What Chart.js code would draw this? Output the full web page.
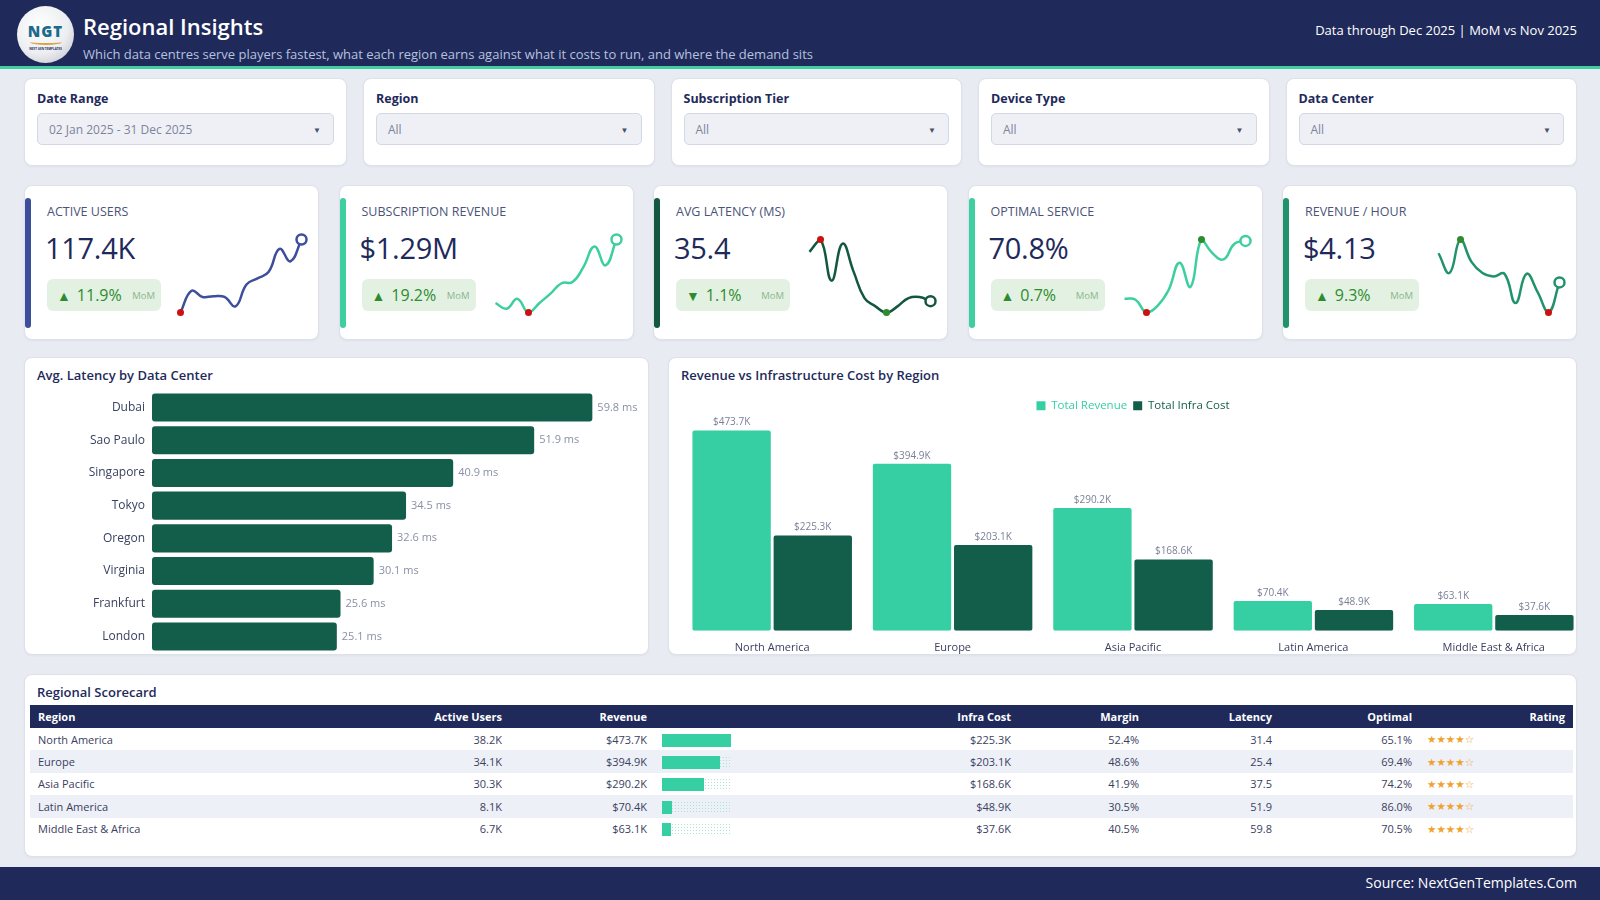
<!DOCTYPE html>
<html>
<head>
<meta charset="utf-8">
<title>Regional Insights</title>
<script src="https://cdn.jsdelivr.net/npm/chart.js@4.4.1/dist/chart.umd.min.js"></script>
<style>
  * { box-sizing: border-box; }
  body {
    margin: 0; width: 1600px; height: 900px; overflow: hidden;
    background: #e9ebf3; font-family: 'Open Sans', sans-serif; color: #1e2a5a;
    position: relative;
  }
  .header {
    position: absolute; left: 0; top: 0; width: 1600px; height: 69px;
    background: #1f2a5b; border-bottom: 3px solid #3ecfa0;
  }
  .logo {
    position: absolute; left: 17px; top: 6px; width: 57px; height: 57px; border-radius: 50%;
    background: radial-gradient(circle at 40% 35%, #ffffff 0%, #eceef1 55%, #b7bac3 100%);
    text-align: center;
  }
  .logo .ngt { position: absolute; left: 0; right: 0; top: 15px; font-size: 15px; font-weight: 800; color: #1c6b8a; letter-spacing: 1px; }
  .logo .swoosh { position: absolute; left: 13px; top: 33px; width: 32px; height: 6px; border-bottom: 2px solid #d9a441; border-radius: 0 0 50% 50%; }
  .logo .tiny { position: absolute; left: 0; right: 0; top: 41px; font-size: 3px; color: #1f2a5b; font-weight: 700; }
  .title { position: absolute; left: 83px; top: 11px; font-size: 22px; font-weight: 600; color: #fff; line-height: 30px; }
  .subtitle { position: absolute; left: 83px; top: 45px; font-size: 13px; color: #b6c1de; line-height: 18px; }
  .asof { position: absolute; right: 23px; top: 20px; font-size: 13px; color: #fff; line-height: 20px; }

  .card { background: #fff; border: 1px solid #dde1ea; border-radius: 8px; box-shadow: 0 1px 2px rgba(30,42,90,0.05); position: relative; }

  .filters { position: absolute; left: 24px; top: 78px; width: 1553px; height: 88px; display: flex; gap: 16px; }
  .filters .card { flex: 1 1 0; padding: 11px 12px 0 12px; }
  .filters .card:first-child { flex: 0 0 323px; }
  .flabel { font-size: 12.5px; font-weight: 700; line-height: 17px; color: #1e2a5a; }
  .fselect {
    margin-top: 6px; height: 32px; border: 1px solid #d3d8e4; background: #eef0f6; border-radius: 5px;
    display: flex; align-items: center; justify-content: space-between; padding: 0 12px 0 11px;
    font-size: 12px; color: #7d849b;
  }
  .fselect .arr { font-size: 8px; color: #4a5068; }

  .kpis { position: absolute; left: 24px; top: 185px; width: 1553px; height: 155px; display: flex; gap: 19.5px; }
  .kpis .card { flex: 1 1 0; }
  .accent { position: absolute; left: 0; top: 12px; width: 6px; height: 130px; border-radius: 3px; }
  .klabel { position: absolute; left: 22px; top: 17px; font-size: 12.5px; color: #4a5478; line-height: 18px; }
  .kvalue { position: absolute; left: 20px; top: 41px; font-size: 29px; font-weight: 500; color: #1e2a5a; line-height: 42px; letter-spacing: -0.3px; }
  .badge {
    position: absolute; left: 22px; top: 93px; width: 114px; height: 32px; border-radius: 6px;
    background: #e2f1e2; display: flex; align-items: center; padding: 0 6px 0 10px; color: #2e8b2e;
  }
  .badge .tri { font-size: 14px; margin-right: 6px; }
  .badge .pct { font-size: 16px; }
  .badge .mom { font-size: 9.5px; color: #8db58d; margin-left: auto; }
  .spark { position: absolute; left: 148px; top: 46px; width: 136px; height: 88px; }

  .panel-title { position: absolute; left: 12px; top: 7px; font-size: 13px; font-weight: 600; color: #1e2a5a; line-height: 20px; }
  #latCard { position: absolute; left: 24px; top: 357px; width: 625px; height: 298px; }
  #revCard { position: absolute; left: 668px; top: 357px; width: 909px; height: 298px; }
  .latWrap { position: absolute; left: 8px; top: 19px; width: 613px; height: 290px; }
  .revWrap { position: absolute; left: 13px; top: 36px; width: 902px; height: 270px; }

  #tblCard { position: absolute; left: 24px; top: 674px; width: 1553px; height: 183px; }
  table { position: absolute; left: 5px; top: 30px; width: 1543px; border-collapse: collapse; table-layout: fixed; font-size: 11px; }
  th { background: #1f2a5b; color: #fff; font-weight: 700; height: 23px; padding: 0 8px; text-align: right; }
  th:first-child { text-align: left; }
  td { height: 22.4px; padding: 0 8px; text-align: right; color: #3a4160; }
  td:first-child { text-align: left; }
  tbody tr:nth-child(even) td { background: #eef0f7; }
  td.barcell { text-align: left; padding-left: 7px; }
  .track {
    width: 69px; height: 13px; position: relative; top: 1px;
    background-image: radial-gradient(#a9e6d0 0.9px, transparent 1px); background-size: 3px 3px;
  }
  .fill { height: 13px; background: #36cfa3; }
  td.stars { text-align: left; padding-left: 7px; color: #f0a22e; font-size: 10.5px; font-family: 'DejaVu Sans', sans-serif; }
  th.ratingh { text-align: right; }

  .footer { position: absolute; left: 0; top: 867px; width: 1600px; height: 33px; background: #1f2a5b; }
  .footer span { position: absolute; right: 23px; top: 6px; font-size: 14px; color: #fff; line-height: 20px; }
</style>
</head>
<body>

<div class="header">
  <div class="logo"><div class="ngt">NGT</div><div class="swoosh"></div><div class="tiny">NEXT GEN TEMPLATES</div></div>
  <div class="title">Regional Insights</div>
  <div class="subtitle">Which data centres serve players fastest, what each region earns against what it costs to run, and where the demand sits</div>
  <div class="asof">Data through Dec 2025 | MoM vs Nov 2025</div>
</div>

<div class="filters" id="filters"></div>
<div class="kpis" id="kpis"></div>

<div class="card" id="latCard">
  <div class="panel-title">Avg. Latency by Data Center</div>
  <div class="latWrap"><canvas id="latencyChart"></canvas></div>
</div>
<div class="card" id="revCard">
  <div class="panel-title">Revenue vs Infrastructure Cost by Region</div>
  <div class="revWrap"><canvas id="revenueChart"></canvas></div>
</div>

<div class="card" id="tblCard">
  <div class="panel-title">Regional Scorecard</div>
  <table id="scorecard">
    <colgroup>
      <col style="width:320px"><col style="width:160px"><col style="width:145px"><col style="width:226px">
      <col style="width:138px"><col style="width:128px"><col style="width:133px"><col style="width:140px"><col style="width:153px">
    </colgroup>
    <thead><tr id="thead"></tr></thead>
    <tbody id="tbody"></tbody>
  </table>
</div>

<div class="footer"><span>Source: NextGenTemplates.Com</span></div>

<script>
// Bộ lọc
const filterLabels = ['Date Range', 'Region', 'Subscription Tier', 'Device Type', 'Data Center'];
const filterValues = ['02 Jan 2025 - 31 Dec 2025', 'All', 'All', 'All', 'All'];

// KPI
const months = ['Jan', 'Feb', 'Mar', 'Apr', 'May', 'Jun', 'Jul', 'Aug', 'Sep', 'Oct', 'Nov', 'Dec'];
const kpiLabels = ['ACTIVE USERS', 'SUBSCRIPTION REVENUE', 'AVG LATENCY (MS)', 'OPTIMAL SERVICE', 'REVENUE / HOUR'];
const kpiValues = ['117.4K', '$1.29M', '35.4', '70.8%', '$4.13'];
const kpiChanges = ['11.9%', '19.2%', '1.1%', '0.7%', '9.3%'];
const kpiDirections = ['up', 'up', 'down', 'up', 'up'];
const kpiLowerIsBetter = [false, false, true, false, false];
const kpiColors = ['#3d4e9a', '#3ecfa0', '#14573f', '#3ecfa0', '#21936b'];

const activeUsersTrend = [7.8, 9.2, 8.8, 8.85, 8.8, 8.2, 9.6, 10.0, 10.4, 11.9, 11.1, 12.5];
const subRevenueTrend = [89.5, 84.2, 93.3, 80.7, 89.5, 98.2, 107.8, 109.0, 123.0, 141.9, 124.4, 148.3];
const latencyTrend = [38.5, 39.7, 35.7, 39.3, 36.6, 34.0, 33.2, 32.6, 33.2, 34.0, 34.1, 33.7];
const optimalTrend = [65.7, 65.5, 62.8, 64.2, 67.5, 73.3, 68.2, 78.2, 75.3, 74.0, 77.3, 77.9];
const revPerHourTrend = [4.40, 4.17, 4.56, 4.30, 4.17, 4.13, 4.16, 3.82, 4.16, 3.95, 3.71, 4.06];
const kpiTrends = [activeUsersTrend, subRevenueTrend, latencyTrend, optimalTrend, revPerHourTrend];

// Độ trễ theo data center
const dataCenters = ['Dubai', 'Sao Paulo', 'Singapore', 'Tokyo', 'Oregon', 'Virginia', 'Frankfurt', 'London'];
const dcLatency = [59.8, 51.9, 40.9, 34.5, 32.6, 30.1, 25.6, 25.1];

// Theo khu vực
const regions = ['North America', 'Europe', 'Asia Pacific', 'Latin America', 'Middle East & Africa'];
const regionRevenue = [473.7, 394.9, 290.2, 70.4, 63.1];
const regionInfraCost = [225.3, 203.1, 168.6, 48.9, 37.6];
const regionUsers = [38.2, 34.1, 30.3, 8.1, 6.7];
const regionMargin = [52.4, 48.6, 41.9, 30.5, 40.5];
const regionLatency = [31.4, 25.4, 37.5, 51.9, 59.8];
const regionOptimal = [65.1, 69.4, 74.2, 86.0, 70.5];
const regionRating = [4, 4, 4, 4, 4];
const tableHeaders = ['Region', 'Active Users', 'Revenue', '', 'Infra Cost', 'Margin', 'Latency', 'Optimal', 'Rating'];

const TEAL = '#36cfa3';
const DARK_GREEN = '#135e4a';
const GOOD = '#2e8b2e';
const BAD = '#cc1111';

Chart.defaults.font.family = "'Open Sans', sans-serif";
Chart.defaults.animation = false;

// Vẽ bộ lọc
function renderFilters() {
    const box = document.getElementById('filters');
    filterLabels.forEach((label, i) => {
        const card = document.createElement('div');
        card.className = 'card';
        card.innerHTML = `<div class="flabel">${label}</div>
            <div class="fselect"><span>${filterValues[i]}</span><span class="arr">▼</span></div>`;
        box.appendChild(card);
    });
}

// Plugin nhãn giá trị trên cột
function makeValueLabels(format, size, color) {
    return {
        id: 'valueLabels',
        afterDatasetsDraw(chart) {
            const ctx = chart.ctx;
            ctx.save();
            ctx.font = `${size}px 'Open Sans', sans-serif`;
            ctx.fillStyle = color;
            chart.data.datasets.forEach((ds, di) => {
                chart.getDatasetMeta(di).data.forEach((bar, i) => {
                    const text = format(ds.data[i]);
                    if (chart.options.indexAxis === 'y') {
                        ctx.textAlign = 'left';
                        ctx.textBaseline = 'middle';
                        ctx.fillText(text, bar.x + 5, bar.y);
                    } else {
                        ctx.textAlign = 'center';
                        ctx.textBaseline = 'bottom';
                        ctx.fillText(text, bar.x, bar.y - 3);
                    }
                });
            });
            ctx.restore();
        }
    };
}

// Sparkline cho KPI
function renderKpis() {
    const box = document.getElementById('kpis');
    kpiLabels.forEach((label, k) => {
        const card = document.createElement('div');
        card.className = 'card';
        const tri = kpiDirections[k] === 'up' ? '▲' : '▼';
        card.innerHTML = `<div class="accent" style="background:${kpiColors[k]}"></div>
            <div class="klabel">${label}</div>
            <div class="kvalue">${kpiValues[k]}</div>
            <div class="badge"><span class="tri">${tri}</span><span class="pct">${kpiChanges[k]}</span><span class="mom">MoM</span></div>
            <div class="spark"><canvas></canvas></div>`;
        box.appendChild(card);

        const data = kpiTrends[k];
        const last = data.length - 1;
        const maxI = data.indexOf(Math.max(...data));
        const minI = data.indexOf(Math.min(...data));
        const goodI = kpiLowerIsBetter[k] ? minI : maxI;
        const badI = kpiLowerIsBetter[k] ? maxI : minI;
        const radius = [], bg = [], border = [], bw = [];
        data.forEach((v, i) => {
            if (i === last) { radius.push(5); bg.push('#fff'); border.push(kpiColors[k]); bw.push(2.5); }
            else if (i === goodI) { radius.push(3.5); bg.push(GOOD); border.push(GOOD); bw.push(0); }
            else if (i === badI) { radius.push(3.5); bg.push(BAD); border.push(BAD); bw.push(0); }
            else { radius.push(0); bg.push(kpiColors[k]); border.push(kpiColors[k]); bw.push(0); }
        });

        new Chart(card.querySelector('canvas'), {
            type: 'line',
            data: {
                labels: months,
                datasets: [{
                    data: data,
                    borderColor: kpiColors[k],
                    borderWidth: 2.5,
                    tension: 0.45,
                    fill: false,
                    clip: false,
                    pointRadius: radius,
                    pointBackgroundColor: bg,
                    pointBorderColor: border,
                    pointBorderWidth: bw
                }]
            },
            options: {
                responsive: true,
                maintainAspectRatio: false,
                layout: { padding: 6 },
                scales: {
                    x: { display: false },
                    y: { display: false, min: Math.min(...data), max: Math.max(...data) }
                },
                plugins: { legend: { display: false }, tooltip: { enabled: false } }
            }
        });
    });
}

// Biểu đồ độ trễ theo data center
function renderLatencyChart() {
    new Chart(document.getElementById('latencyChart'), {
        type: 'bar',
        data: {
            labels: dataCenters,
            datasets: [{
                label: 'Avg. Latency (ms)',
                data: dcLatency,
                backgroundColor: DARK_GREEN,
                borderRadius: 3,
                borderSkipped: false,
                barPercentage: 0.86,
                categoryPercentage: 1
            }]
        },
        options: {
            indexAxis: 'y',
            responsive: true,
            maintainAspectRatio: false,
            layout: { padding: { right: 8 } },
            scales: {
                x: { display: false, min: 0, max: 66 },
                y: {
                    grid: { display: false, drawTicks: false },
                    border: { display: false },
                    ticks: { color: '#3a4160', font: { size: 12 }, padding: 7 },
                    afterFit: function(scale) { scale.width = 119; }
                }
            },
            plugins: { legend: { display: false }, tooltip: { enabled: false } }
        },
        plugins: [makeValueLabels(v => v.toFixed(1) + ' ms', 11, '#8a8fa6')]
    });
}

// Biểu đồ doanh thu vs chi phí hạ tầng
function renderRevenueChart() {
    const colors = [TEAL, DARK_GREEN];
    new Chart(document.getElementById('revenueChart'), {
        type: 'bar',
        data: {
            labels: regions,
            datasets: [{
                label: 'Total Revenue',
                data: regionRevenue,
                backgroundColor: TEAL,
                borderRadius: 2,
                borderSkipped: false,
                barPercentage: 0.965,
                categoryPercentage: 0.9
            }, {
                label: 'Total Infra Cost',
                data: regionInfraCost,
                backgroundColor: DARK_GREEN,
                borderRadius: 2,
                borderSkipped: false,
                barPercentage: 0.965,
                categoryPercentage: 0.9
            }]
        },
        options: {
            responsive: true,
            maintainAspectRatio: false,
            scales: {
                x: {
                    grid: { display: false, drawTicks: false },
                    border: { display: false },
                    ticks: { color: '#3a4160', font: { size: 11 }, padding: 10 }
                },
                y: { display: false, min: 0, max: Math.max(...regionRevenue) * 1.045 }
            },
            plugins: {
                tooltip: { enabled: false },
                legend: {
                    position: 'top',
                    labels: {
                        boxWidth: 9,
                        boxHeight: 9,
                        padding: 6,
                        font: { size: 11.5 },
                        generateLabels: function(chart) {
                            const items = Chart.defaults.plugins.legend.labels.generateLabels(chart);
                            items.forEach((it, i) => { it.fontColor = colors[i]; it.lineWidth = 0; });
                            return items;
                        }
                    }
                }
            }
        },
        plugins: [makeValueLabels(v => '$' + v.toFixed(1) + 'K', 10, '#7a8099')]
    });
}

// Bảng scorecard
function renderTable() {
    document.getElementById('thead').innerHTML = tableHeaders
        .map((h, i) => `<th${i === 8 ? ' class="ratingh"' : ''}>${h}</th>`).join('');
    const maxRev = Math.max(...regionRevenue);
    const rows = regions.map((r, i) => {
        const w = (regionRevenue[i] / maxRev * 100).toFixed(1);
        const stars = '★'.repeat(regionRating[i]) + '☆'.repeat(5 - regionRating[i]);
        return `<tr>
            <td>${r}</td>
            <td>${regionUsers[i].toFixed(1)}K</td>
            <td>$${regionRevenue[i].toFixed(1)}K</td>
            <td class="barcell"><div class="track"><div class="fill" style="width:${w}%"></div></div></td>
            <td>$${regionInfraCost[i].toFixed(1)}K</td>
            <td>${regionMargin[i].toFixed(1)}%</td>
            <td>${regionLatency[i].toFixed(1)}</td>
            <td>${regionOptimal[i].toFixed(1)}%</td>
            <td class="stars">${stars}</td>
        </tr>`;
    });
    document.getElementById('tbody').innerHTML = rows.join('');
}

renderFilters();
renderKpis();
renderLatencyChart();
renderRevenueChart();
renderTable();
</script>
</body>
</html>
